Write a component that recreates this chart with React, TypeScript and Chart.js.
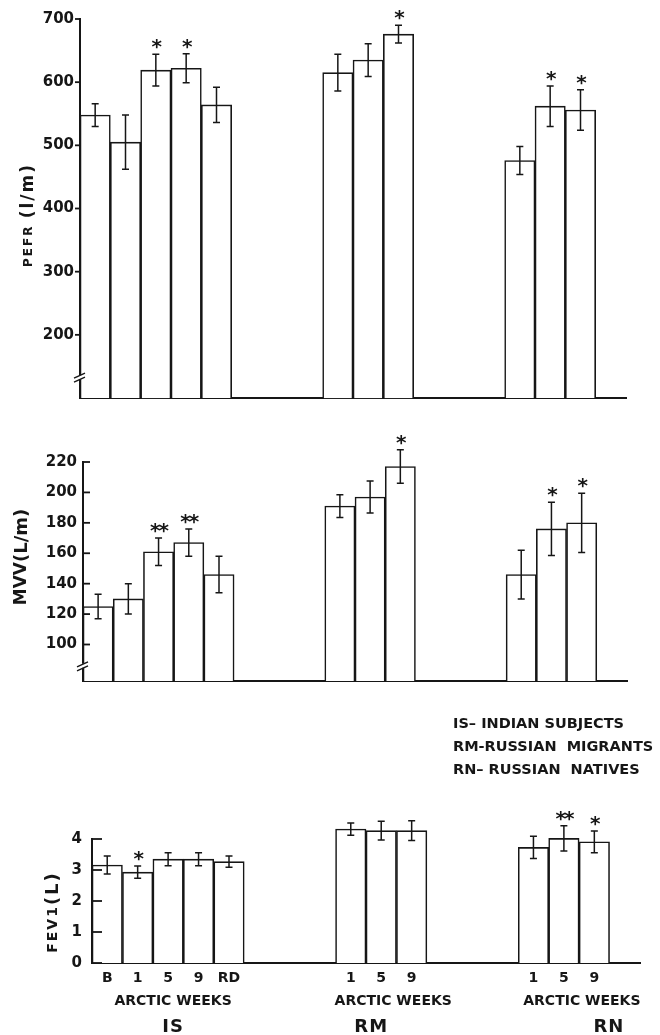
import React, { useEffect, useRef } from 'react';
import { Chart, registerables } from 'chart.js';

Chart.register(...registerables);

// ---------------- data ----------------
// 18 category slots: IS (B,1,5,9,RD), gap, RM (1,5,9), gap, RN (1,5,9), gap
const slotLabels = ['B', '1', '5', '9', 'RD', '', '', '', '1', '5', '9', '', '', '', '1', '5', '9', ''];
const groupNames = ['IS', 'RM', 'RN'];
const groupMiddleSlots = [2, 9, 15];
const groupSubtitle = 'ARCTIC WEEKS';
const keyLines = ['IS\u2013 INDIAN SUBJECTS', 'RM-RUSSIAN  MIGRANTS', 'RN\u2013 RUSSIAN  NATIVES'];

const pefrMean = [548, 505, 619, 622, 564, null, null, null, 615, 635, 676, null, null, null, 476, 562, 556, null];
const pefrErr = [18, 43, 25, 23, 28, 0, 0, 0, 29, 26, 14, 0, 0, 0, 22, 32, 32, 0];
const pefrStar = ['', '', '*', '*', '', '', '', '', '', '', '*', '', '', '', '', '*', '*', ''];

const mvvMean = [125, 130, 161, 167, 146, null, null, null, 191, 197, 217, null, null, null, 146, 176, 180, null];
const mvvErr = [8, 10, 9, 9, 12, 0, 0, 0, 7.5, 10.5, 11, 0, 0, 0, 16, 17.5, 19.5, 0];
const mvvStar = ['', '', '**', '**', '', '', '', '', '', '', '*', '', '', '', '', '*', '*', ''];

const fevMean = [3.16, 2.93, 3.35, 3.35, 3.27, null, null, null, 4.32, 4.27, 4.27, null, null, null, 3.73, 4.02, 3.91, null];
const fevErr = [0.29, 0.2, 0.21, 0.21, 0.18, 0, 0, 0, 0.2, 0.3, 0.32, 0, 0, 0, 0.36, 0.41, 0.35, 0];
const fevStar = ['', '*', '', '', '', '', '', '', '', '', '', '', '', '', '', '**', '*', ''];

// ---------------- styling ----------------
const INK = '#161616';
const FONT = '"DejaVu Sans", "Liberation Sans", sans-serif';

type Seg = [string, number];
type Spec = {
  top: number;
  height: number;
  area: { left: number; right: number; top: number; bottom: number };
  min: number;
  max: number;
  step: number;
  hideBelow: number;
  tickDir: 'in' | 'out';
  tickLen: number;
  tickPad: number;
  breakAt: number | null;
  values: (number | null)[];
  errors: number[];
  stars: string[];
  title: Seg[];
  titleSpacing: number;
  titleX: number;
  titleY: number;
  bottomLabels: boolean;
};

function drawRotatedTitle(ctx: CanvasRenderingContext2D, segs: Seg[], cx: number, cy: number, spacing: number) {
  ctx.save();
  ctx.translate(cx, cy);
  ctx.rotate(-Math.PI / 2);
  ctx.textBaseline = 'middle';
  ctx.textAlign = 'left';
  (ctx as any).letterSpacing = spacing + 'px';
  const widths = segs.map(([t, sz]) => {
    ctx.font = `bold ${sz}px ${FONT}`;
    return ctx.measureText(t).width;
  });
  const total = widths.reduce((a, b) => a + b, 0);
  let x = -total / 2;
  segs.forEach(([t, sz], i) => {
    ctx.font = `bold ${sz}px ${FONT}`;
    ctx.fillText(t, x, 0);
    x += widths[i];
  });
  ctx.restore();
}

const extrasPlugin = {
  id: 'extras',
  afterDraw(chart: any, _args: any, o: any) {
    const ctx: CanvasRenderingContext2D = chart.ctx;
    const xs = chart.scales.x;
    const ys = chart.scales.y;
    const area = chart.chartArea;
    ctx.save();
    ctx.strokeStyle = INK;
    ctx.fillStyle = INK;

    // y tick marks
    ctx.lineWidth = 1.8;
    ys.ticks.forEach((t: any) => {
      if (t.value < o.hideBelow) return;
      const y = ys.getPixelForValue(t.value);
      ctx.beginPath();
      ctx.moveTo(area.left, y);
      ctx.lineTo(area.left + (o.tickDir === 'in' ? o.tickLen : -o.tickLen), y);
      ctx.stroke();
    });

    // axis break mark
    if (o.breakAt != null) {
      const by = ys.getPixelForValue(o.breakAt);
      const bx = area.left;
      ctx.fillStyle = '#fff';
      ctx.fillRect(bx - 2, by - 2, 4, 4);
      ctx.fillStyle = INK;
      ctx.lineWidth = 1.4;
      ctx.beginPath();
      ctx.moveTo(bx - 6, by + 1);
      ctx.lineTo(bx + 5, by - 4);
      ctx.moveTo(bx - 6, by + 5);
      ctx.lineTo(bx + 5, by);
      ctx.stroke();
    }

    // error bars + significance stars
    const meta = chart.getDatasetMeta(0);
    const vals = chart.data.datasets[0].data;
    meta.data.forEach((bar: any, i: number) => {
      const v = vals[i];
      if (v == null) return;
      const e = o.errors[i];
      const x = bar.x;
      const yt = ys.getPixelForValue(v + e);
      const yb = ys.getPixelForValue(v - e);
      ctx.lineWidth = 1.5;
      ctx.beginPath();
      ctx.moveTo(x, yt);
      ctx.lineTo(x, yb);
      ctx.moveTo(x - 3.5, yt);
      ctx.lineTo(x + 3.5, yt);
      ctx.moveTo(x - 3.5, yb);
      ctx.lineTo(x + 3.5, yb);
      ctx.stroke();
      const s = o.stars[i];
      if (s) {
        ctx.font = `bold 20px ${FONT}`;
        ctx.textAlign = 'center';
        ctx.textBaseline = 'alphabetic';
        (ctx as any).letterSpacing = '-2px';
        const m = ctx.measureText(s);
        const cy = yt - 10;
        ctx.fillText(s, x, cy + (m.actualBoundingBoxAscent - m.actualBoundingBoxDescent) / 2);
        (ctx as any).letterSpacing = '0px';
      }
    });

    // y-axis title
    drawRotatedTitle(ctx, o.title, o.titleX, o.titleY, o.titleSpacing);

    // group labels under the bottom panel + abbreviation key
    if (o.bottomLabels) {
      const weeksShift = [5, 12, 18];
      const nameShift = [5, -10, 45];
      ctx.textAlign = 'center';
      ctx.textBaseline = 'middle';
      groupMiddleSlots.forEach((slot, gi) => {
        const cx = xs.getPixelForValue(slot);
        ctx.font = `bold 14px ${FONT}`;
        ctx.fillText(groupSubtitle, cx + weeksShift[gi], area.bottom + 38);
        ctx.font = `bold 18px ${FONT}`;
        (ctx as any).letterSpacing = '1px';
        ctx.fillText(groupNames[gi], cx + nameShift[gi], area.bottom + 64);
        (ctx as any).letterSpacing = '0px';
      });
      ctx.textAlign = 'left';
      ctx.font = `bold 14.5px ${FONT}`;
      keyLines.forEach((line, i) => {
        ctx.fillText(line, 453, 34 + i * 23);
      });
    }
    ctx.restore();
  },
};

function buildConfig(spec: Spec): any {
  const { area, height } = spec;
  return {
    type: 'bar',
    data: {
      labels: slotLabels,
      datasets: [
        {
          data: spec.values,
          base: spec.min,
          backgroundColor: '#ffffff',
          borderColor: INK,
          borderWidth: 1.6,
          borderSkipped: 'start',
          barPercentage: 1,
          categoryPercentage: 1,
          clip: false,
        },
      ],
    },
    options: {
      animation: false,
      responsive: false,
      maintainAspectRatio: false,
      devicePixelRatio: 1,
      layout: { padding: { left: 0, top: area.top, right: 660 - area.right, bottom: 0 } },
      plugins: {
        legend: { display: false },
        tooltip: { enabled: false },
        title: { display: false },
        extras: spec,
      },
      scales: {
        x: {
          z: 1,
          grid: { display: false, drawTicks: false },
          border: { display: true, color: INK, width: 2 },
          ticks: {
            display: spec.bottomLabels,
            autoSkip: false,
            maxRotation: 0,
            padding: 7,
            color: INK,
            font: { family: FONT, size: 14, weight: 'bold' },
          },
          afterFit: (s: any) => {
            s.height = height - area.bottom;
          },
        },
        y: {
          z: 1,
          min: spec.min,
          max: spec.max,
          grid: { display: false, drawTicks: false },
          border: { display: true, color: INK, width: 2 },
          ticks: {
            stepSize: spec.step,
            padding: spec.tickPad,
            color: INK,
            font: { family: FONT, size: 15, weight: 'bold' },
            callback: (v: any) => (Number(v) < spec.hideBelow ? '' : String(v)),
          },
          afterFit: (s: any) => {
            s.width = area.left;
          },
        },
      },
    },
    plugins: [extrasPlugin],
  };
}

const specs: Spec[] = [
  {
    top: 0,
    height: 420,
    area: { left: 80, right: 626, top: 19, bottom: 398 },
    min: 100,
    max: 700,
    step: 100,
    hideBelow: 200,
    tickDir: 'out',
    tickLen: 5,
    tickPad: 6,
    breakAt: 133,
    values: pefrMean,
    errors: pefrErr,
    stars: pefrStar,
    title: [['PEFR ', 12], ['(l/m)', 17]],
    titleSpacing: 2,
    titleX: 29,
    titleY: 215,
    bottomLabels: false,
  },
  {
    top: 420,
    height: 290,
    area: { left: 83, right: 627, top: 42, bottom: 261 },
    min: 76,
    max: 220,
    step: 20,
    hideBelow: 100,
    tickDir: 'in',
    tickLen: 7,
    tickPad: 6,
    breakAt: 86,
    values: mvvMean,
    errors: mvvErr,
    stars: mvvStar,
    title: [['MVV', 17], ['(L/m)', 18]],
    titleSpacing: 0,
    titleX: 22,
    titleY: 137,
    bottomLabels: false,
  },
  {
    top: 690,
    height: 345,
    area: { left: 92, right: 640, top: 149, bottom: 273 },
    min: 0,
    max: 4,
    step: 1,
    hideBelow: -1,
    tickDir: 'in',
    tickLen: 10,
    tickPad: 10,
    breakAt: null,
    values: fevMean,
    errors: fevErr,
    stars: fevStar,
    title: [['FEV1', 14], ['(L)', 18]],
    titleSpacing: 2,
    titleX: 53,
    titleY: 222,
    bottomLabels: true,
  },
];

function Panel({ spec }: { spec: Spec }) {
  const ref = useRef<HTMLCanvasElement>(null);
  useEffect(() => {
    if (!ref.current) return;
    const chart = new Chart(ref.current, buildConfig(spec));
    return () => chart.destroy();
  }, [spec]);
  return (
    <canvas
      ref={ref}
      width={660}
      height={spec.height}
      style={{ position: 'absolute', left: 0, top: spec.top, width: 660, height: spec.height }}
    />
  );
}

export default function App() {
  return (
    <div style={{ position: 'absolute', left: 0, top: 0, width: 660, height: 1035, background: '#ffffff' }}>
      {specs.map((s, i) => (
        <Panel key={i} spec={s} />
      ))}
    </div>
  );
}
